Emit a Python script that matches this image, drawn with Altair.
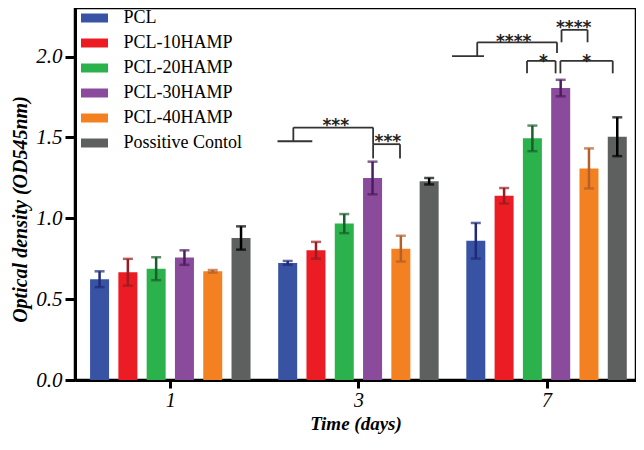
import json
import altair as alt
import pandas as pd

# ---------------- data ----------------
days = ["1", "3", "7"]
series = ["PCL", "PCL-10HAMP", "PCL-20HAMP", "PCL-30HAMP", "PCL-40HAMP", "Possitive Contol"]
bar_colors = ["#3953a4", "#ec1c24", "#2bb24c", "#8a4b9c", "#f38121", "#5e5f5f"]
err_colors = ["#1f2a78", "#9b1b20", "#1a5e2e", "#4a1e5c", "#b3602a", "#000000"]

pcl_mean = [0.623, 0.724, 0.861]
pcl10_mean = [0.666, 0.802, 1.139]
pcl20_mean = [0.688, 0.967, 1.494]
pcl30_mean = [0.757, 1.249, 1.805]
pcl40_mean = [0.672, 0.812, 1.308]
ctrl_mean = [0.878, 1.229, 1.504]

pcl_err = [0.049, 0.012, 0.110]
pcl10_err = [0.083, 0.052, 0.048]
pcl20_err = [0.071, 0.059, 0.079]
pcl30_err = [0.045, 0.101, 0.051]
pcl40_err = [0.008, 0.080, 0.124]
ctrl_err = [0.072, 0.020, 0.120]

means = [pcl_mean, pcl10_mean, pcl20_mean, pcl30_mean, pcl40_mean, ctrl_mean]
errs = [pcl_err, pcl10_err, pcl20_err, pcl30_err, pcl40_err, ctrl_err]

# significance brackets: (day index, left slot, right slot, top, left-leg bottom, right-leg bottom)
brackets = [
    (1, 0.20, 3.02, 1.561, 1.476, 1.458),
    (1, 3.02, 3.97, 1.458, 1.370, 1.370),
    (2, 0.05, 2.87, 2.088, 2.002, 2.022),
    (2, 1.81, 2.82, 1.973, 1.896, 1.896),
    (2, 2.99, 4.84, 1.973, 1.896, 1.896),
    (2, 3.03, 3.95, 2.165, 2.088, 2.088),
]
# plain horizontal lines: (day index, left slot, right slot, level)
base_lines = [
    (1, -0.36, 0.87, 1.476),
    (2, -0.84, 0.29, 2.002),
]
# labels: (day index, slot, level, text)
sig_labels = [
    (1, 1.70, 1.600, "***"),
    (1, 3.54, 1.500, "***"),
    (2, 1.34, 2.120, "****"),
    (2, 2.39, 2.000, "*"),
    (2, 3.92, 2.000, "*"),
    (2, 3.46, 2.205, "****"),
]

SLOT = 0.1504  # spacing between bars inside a group (in group units)


def xpos(g, slot):
    return g + (slot - 2.5) * SLOT


rows = []
for si, s in enumerate(series):
    for gi, d in enumerate(days):
        m = means[si][gi]
        e = errs[si][gi]
        rows.append({"series": s, "day": d, "x": xpos(gi, si), "mean": m,
                     "lo": m - e, "hi": m + e, "errc": s + " "})
df = pd.DataFrame(rows)

segs = []
for g, l, r, top, lb, rb in brackets:
    segs.append({"x": xpos(g, l), "x2": xpos(g, l), "y": lb, "y2": top})
    segs.append({"x": xpos(g, l), "x2": xpos(g, r), "y": top, "y2": top})
    segs.append({"x": xpos(g, r), "x2": xpos(g, r), "y": top, "y2": rb})
for g, l, r, lvl in base_lines:
    segs.append({"x": xpos(g, l), "x2": xpos(g, r), "y": lvl, "y2": lvl})
seg_df = pd.DataFrame(segs)

lab_df = pd.DataFrame([{"x": xpos(g, s), "y": y, "t": t} for g, s, y, t in sig_labels])

SERIF = "Liberation Serif"

xscale = alt.Scale(domain=[-0.480, 2.449], nice=False, zero=False)
yscale = alt.Scale(domain=[0, 2.3], nice=False)

label_expr = "%s[datum.value]" % json.dumps(days)

x_axis = alt.Axis(values=[0, 1, 2], labelExpr=label_expr, title="Time (days)",
                  grid=False, domainWidth=3, domainColor="black", tickColor="black",
                  tickWidth=3, tickSize=8, labelFont=SERIF, labelFontStyle="italic",
                  labelFontSize=20, labelColor="black", labelPadding=2,
                  titleFont=SERIF, titleFontStyle="italic", titleFontWeight="bold",
                  titleFontSize=19, titleColor="black", titleY=43, titleBaseline="middle")
y_axis = alt.Axis(values=[0, 0.5, 1.0, 1.5, 2.0], format=".1f",
                  title="Optical density (OD545nm)",
                  grid=False, domainWidth=3, domainColor="black", tickColor="black",
                  tickWidth=3, tickSize=10, labelFont=SERIF, labelFontStyle="italic",
                  labelFontSize=21, labelColor="black", labelPadding=3,
                  titleFont=SERIF, titleFontStyle="italic", titleFontWeight="bold",
                  titleFontSize=20, titleColor="black", titleX=-55, titleY=201,
                  titleBaseline="middle")

bars = alt.Chart(df).mark_bar(width=19).encode(
    x=alt.X("x:Q", scale=xscale, axis=x_axis),
    y=alt.Y("mean:Q", scale=yscale, axis=y_axis),
    color=alt.Color("series:N", sort=series,
                    scale=alt.Scale(domain=series, range=bar_colors),
                    legend=alt.Legend(title=None, orient="none", legendX=10.5, legendY=1,
                                      symbolType="M-1.5,-0.5H1.5V0.5H-1.5Z", symbolSize=324,
                                      symbolStrokeWidth=0, symbolOpacity=1,
                                      labelFont=SERIF, labelFontSize=18, labelColor="black",
                                      rowPadding=7, labelOffset=20, padding=0)),
)

err_domain = [s + " " for s in series]
err_rule = alt.Chart(df).mark_rule(strokeWidth=2.5).encode(
    x="x:Q",
    y="lo:Q",
    y2="hi:Q",
    stroke=alt.Stroke("errc:N", scale=alt.Scale(domain=err_domain, range=err_colors), legend=None),
)
err_cap_hi = alt.Chart(df).mark_tick(orient="horizontal", size=10, thickness=2.5).encode(
    x="x:Q", y="hi:Q",
    color=alt.Color("errc:N", scale=alt.Scale(domain=err_domain, range=err_colors), legend=None),
)
err_cap_lo = alt.Chart(df).mark_tick(orient="horizontal", size=10, thickness=2.5).encode(
    x="x:Q", y="lo:Q",
    color=alt.Color("errc:N", scale=alt.Scale(domain=err_domain, range=err_colors), legend=None),
)

bracket_rules = alt.Chart(seg_df).mark_rule(color="#333333", strokeWidth=1.8).encode(
    x="x:Q", x2="x2:Q", y="y:Q", y2="y2:Q"
)
bracket_text = alt.Chart(lab_df).mark_text(font="DejaVu Sans", fontWeight="bold", fontSize=17,
                                           color="#222222", baseline="alphabetic", dy=10).encode(
    x="x:Q", y="y:Q", text="t:N"
)

caps = alt.layer(err_cap_hi, err_cap_lo).resolve_scale(color="independent")

chart = alt.layer(bars, err_rule, caps, bracket_rules, bracket_text).resolve_scale(
    color="independent"
).properties(
    width=561, height=372,
    autosize=alt.AutoSizeParams(type="none"),
    padding={"left": 67, "top": 0, "right": 0, "bottom": 54},
).configure_view(stroke="black", strokeWidth=2.5)

chart.save("out.html", embed_options={"renderer": "svg", "actions": False})
